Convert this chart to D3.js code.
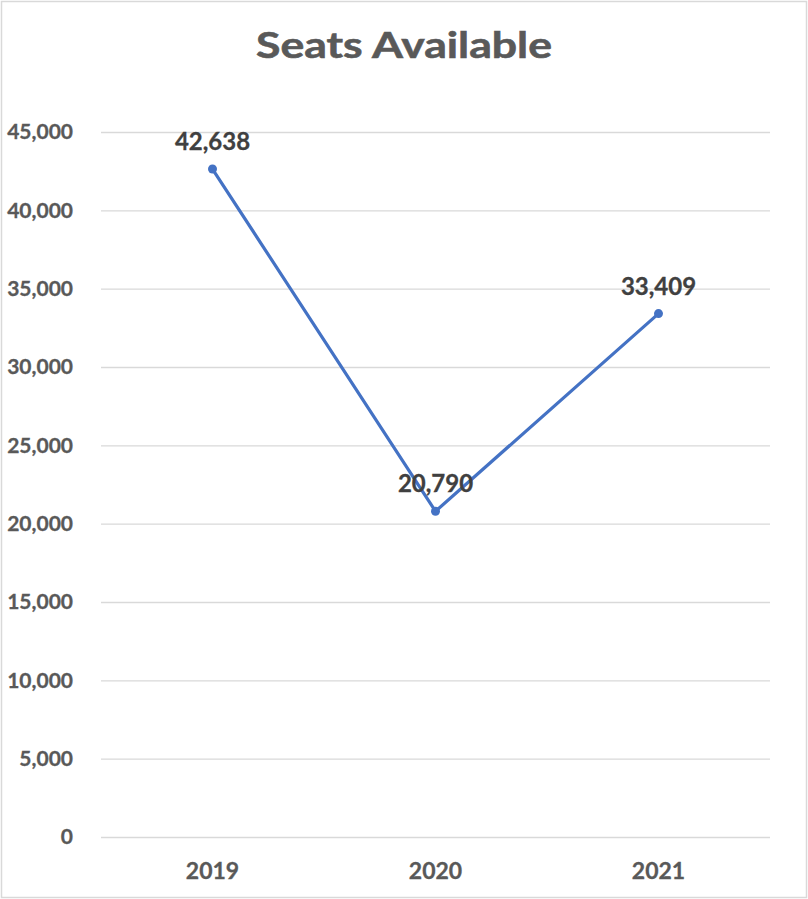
<!DOCTYPE html>
<html>
<head>
<meta charset="utf-8">
<script src="https://cdn.jsdelivr.net/npm/d3@7"></script>
<style>
  html, body { margin: 0; padding: 0; background: #fff; }
  svg { display: block; }
  text { font-family: "Lato", "Noto Sans", sans-serif; font-weight: 700; }
</style>
</head>
<body>
<svg id="chart" width="808" height="899"></svg>
<script>
// Seats available per year
const years = ["2019", "2020", "2021"];
const seats = [42638, 20790, 33409];
const yTicks = [0, 5000, 10000, 15000, 20000, 25000, 30000, 35000, 40000, 45000];
const chartTitle = "Seats Available";

const W = 808, H = 899;
const plot = { left: 101, right: 770, top: 132, bottom: 837 };

const svg = d3.select("#chart");

// outer chart frame
svg.append("rect")
  .attr("x", 1.5).attr("y", 1.5)
  .attr("width", W - 3).attr("height", H - 3)
  .attr("fill", "#fff")
  .attr("stroke", "#d9d9d9").attr("stroke-width", 1.5);

const x = d3.scaleBand().domain(years).range([plot.left, plot.right]);
const y = d3.scaleLinear().domain([0, 45000]).range([plot.bottom, plot.top]);
const fmt = d3.format(",");

// title
svg.append("text")
  .attr("x", 404).attr("y", 58)
  .attr("text-anchor", "middle")
  .attr("font-size", 37)
  .attr("fill", "#595959")
  .attr("stroke", "#595959").attr("stroke-width", 0.6)
  .attr("textLength", 296).attr("lengthAdjust", "spacingAndGlyphs")
  .text(chartTitle);

// horizontal gridlines with value labels
const yAxis = d3.axisLeft(y).tickValues(yTicks).tickSize(-(plot.right - plot.left)).tickPadding(28).tickFormat(fmt);
const gy = svg.append("g").attr("transform", `translate(${plot.left},0)`).call(yAxis);
gy.select(".domain").remove();
gy.selectAll(".tick line").attr("stroke", "#d9d9d9").attr("stroke-width", 1.3);
gy.selectAll(".tick text")
  .attr("fill", "#595959")
  .attr("stroke", "#595959").attr("stroke-width", 0.3)
  .attr("font-size", 21)
  .attr("font-family", "Lato, 'Noto Sans', sans-serif")
  .attr("font-weight", 700);

// category axis labels
const xAxis = d3.axisBottom(x).tickSize(0).tickPadding(26);
const gx = svg.append("g").attr("transform", `translate(0,${plot.bottom})`).call(xAxis);
gx.select(".domain").remove();
gx.selectAll(".tick text")
  .attr("fill", "#595959")
  .attr("stroke", "#595959").attr("stroke-width", 0.3)
  .attr("font-size", 23)
  .attr("font-family", "Lato, 'Noto Sans', sans-serif")
  .attr("font-weight", 700);

const pts = years.map((yr, i) => ({ yr, v: seats[i], cx: x(yr) + x.bandwidth() / 2, cy: y(seats[i]) }));

// series line
svg.append("path")
  .datum(pts)
  .attr("fill", "none")
  .attr("stroke", "#4472c4")
  .attr("stroke-width", 3.2)
  .attr("stroke-linejoin", "round")
  .attr("d", d3.line().x(d => d.cx).y(d => d.cy));

// markers
svg.selectAll("circle.pt")
  .data(pts).enter().append("circle")
  .attr("class", "pt")
  .attr("cx", d => d.cx).attr("cy", d => d.cy)
  .attr("r", 4.5)
  .attr("fill", "#4472c4");

// value labels
svg.selectAll("text.val")
  .data(pts).enter().append("text")
  .attr("class", "val")
  .attr("x", d => d.cx).attr("y", d => d.cy - 19)
  .attr("text-anchor", "middle")
  .attr("font-size", 24)
  .attr("fill", "#404040")
  .attr("stroke", "#404040").attr("stroke-width", 0.3)
  .text(d => fmt(d.v));
</script>
</body>
</html>
